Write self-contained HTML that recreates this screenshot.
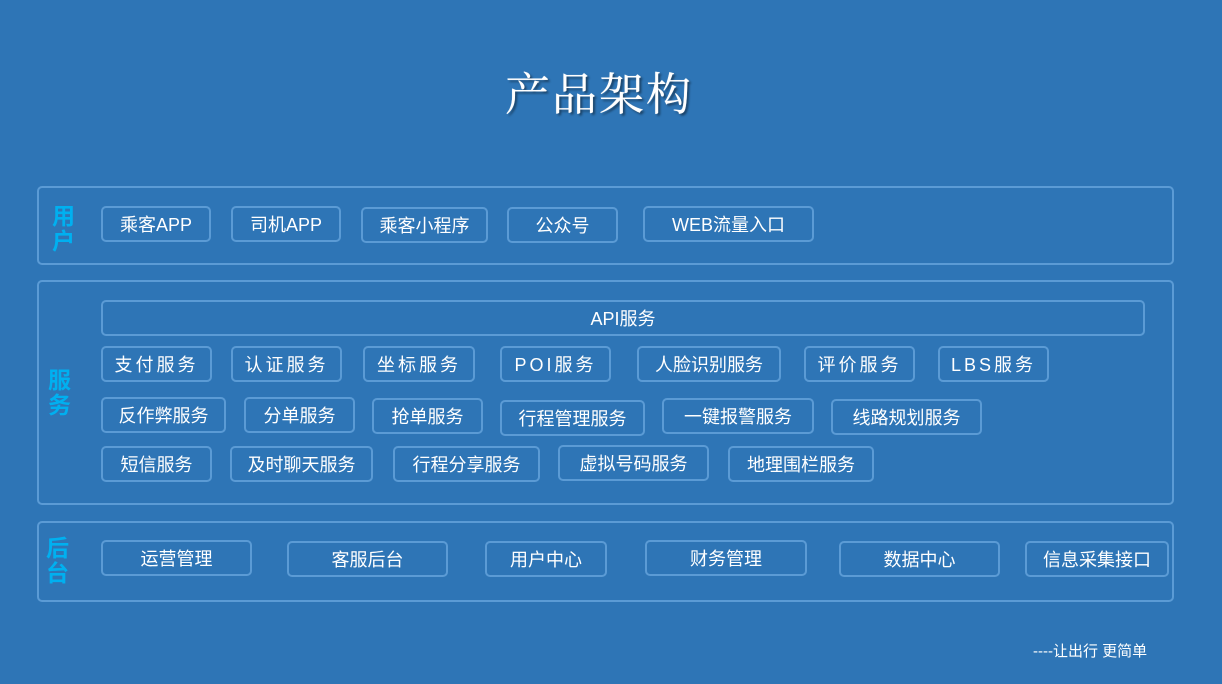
<!DOCTYPE html>
<html><head><meta charset="utf-8"><style>
html,body{margin:0;padding:0}
body{width:1222px;height:684px;background:#2e75b6;position:relative;overflow:hidden;font-family:"Liberation Sans","Noto Sans CJK SC",sans-serif;color:#fff}
.t{position:absolute;left:0;width:1198px;top:58px;text-align:center;font-family:"Liberation Serif","Noto Serif CJK SC",serif;font-size:45px;text-shadow:2px 2px 2px rgba(0,0,0,.45),0 0 0.6px #fff;letter-spacing:2px}
.s{position:absolute;left:37px;width:1137px;border:2px solid #5b9bd5;border-radius:5px;box-sizing:border-box}
.l{position:absolute;color:#00b0f0;font-weight:bold;font-size:23px;line-height:25px;width:25px}
.b{position:absolute;border:2px solid #5b9bd5;border-radius:5px;box-sizing:border-box;display:flex;align-items:center;justify-content:center;font-size:18px;white-space:nowrap}
.f{position:absolute;left:1033px;top:640px;font-size:15px}
</style></head><body>
<div class="t">产品架构</div>
<div class="s" style="top:186px;height:79px"></div>
<div class="s" style="top:280px;height:225px"></div>
<div class="s" style="top:521px;height:81px"></div>
<div class="l" style="left:52px;top:204px">用<br>户</div>
<div class="l" style="left:48px;top:368px">服<br>务</div>
<div class="l" style="left:46px;top:536px">后<br>台</div>

<div class="b" style="left:101px;top:206px;width:110px;height:36px">乘客APP</div>
<div class="b" style="left:231px;top:206px;width:110px;height:36px">司机APP</div>
<div class="b" style="left:361px;top:207px;width:127px;height:36px">乘客小程序</div>
<div class="b" style="left:507px;top:207px;width:111px;height:36px">公众号</div>
<div class="b" style="left:643px;top:206px;width:171px;height:36px">WEB流量入口</div>

<div class="b" style="left:101px;top:300px;width:1044px;height:36px">API服务</div>

<div class="b" style="left:101px;top:346px;width:111px;height:36px;letter-spacing:3px">支付服务</div>
<div class="b" style="left:231px;top:346px;width:111px;height:36px;letter-spacing:3px">认证服务</div>
<div class="b" style="left:363px;top:346px;width:112px;height:36px;letter-spacing:3px">坐标服务</div>
<div class="b" style="left:500px;top:346px;width:111px;height:36px;letter-spacing:3px">POI服务</div>
<div class="b" style="left:637px;top:346px;width:144px;height:36px">人脸识别服务</div>
<div class="b" style="left:804px;top:346px;width:111px;height:36px;letter-spacing:3px">评价服务</div>
<div class="b" style="left:938px;top:346px;width:111px;height:36px;letter-spacing:3px">LBS服务</div>

<div class="b" style="left:101px;top:397px;width:125px;height:36px">反作弊服务</div>
<div class="b" style="left:244px;top:397px;width:111px;height:36px">分单服务</div>
<div class="b" style="left:372px;top:398px;width:111px;height:36px">抢单服务</div>
<div class="b" style="left:500px;top:400px;width:145px;height:36px">行程管理服务</div>
<div class="b" style="left:662px;top:398px;width:152px;height:36px">一键报警服务</div>
<div class="b" style="left:831px;top:399px;width:151px;height:36px">线路规划服务</div>

<div class="b" style="left:101px;top:446px;width:111px;height:36px">短信服务</div>
<div class="b" style="left:230px;top:446px;width:143px;height:36px">及时聊天服务</div>
<div class="b" style="left:393px;top:446px;width:147px;height:36px">行程分享服务</div>
<div class="b" style="left:558px;top:445px;width:151px;height:36px">虚拟号码服务</div>
<div class="b" style="left:728px;top:446px;width:146px;height:36px">地理围栏服务</div>

<div class="b" style="left:101px;top:540px;width:151px;height:36px">运营管理</div>
<div class="b" style="left:287px;top:541px;width:161px;height:36px">客服后台</div>
<div class="b" style="left:485px;top:541px;width:122px;height:36px">用户中心</div>
<div class="b" style="left:645px;top:540px;width:162px;height:36px">财务管理</div>
<div class="b" style="left:839px;top:541px;width:161px;height:36px">数据中心</div>
<div class="b" style="left:1025px;top:541px;width:144px;height:36px">信息采集接口</div>

<div class="f">----让出行 更简单</div>
</body></html>
